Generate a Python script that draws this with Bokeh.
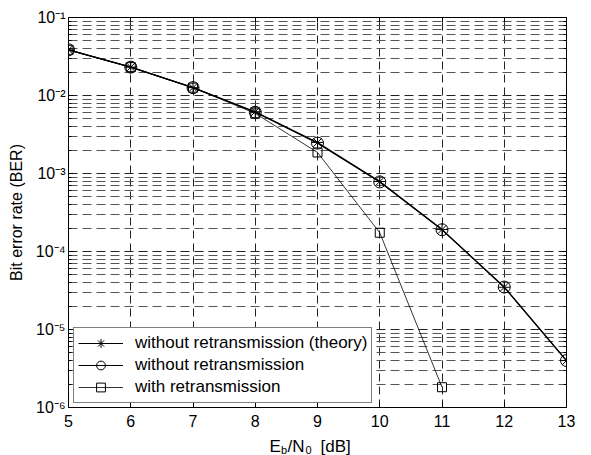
from bokeh.plotting import figure
from bokeh.layouts import column
from bokeh.models import (Range1d, FixedTicker, LogAxis, LinearAxis,
                          Legend, LegendItem, CustomJSTickFormatter)
from bokeh.core.properties import value
from bokeh.embed import file_html
from bokeh.resources import INLINE

# ---------------- data ----------------
ebn0 = [5, 6, 7, 8, 9, 10, 11, 12, 13]
ber_theory = [3.85e-2, 2.31e-2, 1.26e-2, 6.2e-3, 2.5e-3, 7.9e-4, 1.91e-4, 3.48e-5, 4.0e-6]
ber_no_retx = [3.85e-2, 2.31e-2, 1.26e-2, 6.1e-3, 2.45e-3, 7.8e-4, 1.9e-4, 3.5e-5, 4.0e-6]
ebn0_retx = [5, 6, 7, 8, 9, 10, 11]
ber_retx = [3.85e-2, 2.31e-2, 1.26e-2, 5.9e-3, 1.86e-3, 1.74e-4, 1.82e-6]

series_labels = ["without retransmission (theory)",
                 "without retransmission",
                 "with retransmission"]
x_ticks = [5, 6, 7, 8, 9, 10, 11, 12, 13]
y_tick_exps = [-6, -5, -4, -3, -2, -1]
y_tick_labels = ["10\u207b\u2076", "10\u207b\u2075", "10\u207b\u2074",
                 "10\u207b\u00b3", "10\u207b\u00b2", "10\u207b\u00b9"]
y_label = "Bit error rate (BER)"
# x label pieces: E_b / N_0 [dB]
xlab_main = ["E", "/N", "[dB]"]
xlab_sub = ["b", "0"]

FONT = "Liberation Sans"

y_major = [10.0 ** e for e in y_tick_exps]
y_minor = [m * 10.0 ** e for e in y_tick_exps[:-1] for m in range(2, 10)]

p = figure(width=591, height=430,
           x_range=Range1d(5, 13), y_range=Range1d(1e-6, 1e-1),
           y_axis_type="log", output_backend="svg", toolbar_location=None,
           min_border_left=68, min_border_right=25,
           min_border_top=17, min_border_bottom=23)
p.background_fill_color = "white"
p.border_fill_color = "white"
p.outline_line_color = "black"
p.outline_line_width = 1

xt = FixedTicker(ticks=x_ticks, minor_ticks=[])
yt = FixedTicker(ticks=y_major, minor_ticks=y_minor)

def style_axis(ax, show_labels):
    ax.axis_line_color = "black"
    ax.major_tick_line_color = "black"
    ax.minor_tick_line_color = "black"
    ax.major_tick_in = 5
    ax.major_tick_out = 0
    ax.minor_tick_in = 3
    ax.minor_tick_out = 0
    ax.major_label_text_font = FONT
    ax.major_label_text_font_size = "16px"
    ax.major_label_text_color = "black"
    if not show_labels:
        ax.formatter = CustomJSTickFormatter(code="return ''")
        ax.major_label_standoff = 0

p.xaxis.ticker = xt
p.yaxis.ticker = yt
style_axis(p.xaxis[0], True)
style_axis(p.yaxis[0], True)
p.xaxis.major_label_standoff = 7
p.yaxis.major_label_standoff = 3
p.yaxis.formatter = CustomJSTickFormatter(
    args=dict(labels=y_tick_labels, exps=y_tick_exps),
    code="const e = Math.round(Math.log10(tick)); return labels[exps.indexOf(e)];")
p.yaxis.axis_label = y_label
p.yaxis.axis_label_text_font = FONT
p.yaxis.axis_label_text_font_size = "16px"
p.yaxis.axis_label_text_font_style = "normal"
p.yaxis.axis_label_text_color = "black"
p.yaxis.axis_label_standoff = 8

top_ax = LinearAxis(ticker=FixedTicker(ticks=x_ticks, minor_ticks=[]))
style_axis(top_ax, False)
p.add_layout(top_ax, "above")
right_ax = LogAxis(ticker=FixedTicker(ticks=y_major, minor_ticks=y_minor))
style_axis(right_ax, False)
p.add_layout(right_ax, "right")

# grids
p.xgrid.ticker = xt
p.ygrid.ticker = yt
p.xgrid.grid_line_color = "#222222"
p.xgrid.grid_line_dash = "8 5"
p.ygrid.grid_line_color = "#222222"
p.ygrid.grid_line_dash = "9 5"
p.ygrid.minor_grid_line_color = "#555555"
p.ygrid.minor_grid_line_dash = "9 5"

# series
l1 = p.line(ebn0, ber_theory, line_color="black", line_width=1.2)
s1 = p.scatter(ebn0, ber_theory, marker="asterisk", size=12,
               line_color="black", line_width=1)
l2 = p.line(ebn0, ber_no_retx, line_color="black", line_width=1.2)
s2 = p.scatter(ebn0, ber_no_retx, marker="circle", size=12,
               fill_color=None, line_color="black", line_width=1)
l3 = p.line(ebn0_retx, ber_retx, line_color="black", line_width=0.8)
s3 = p.scatter(ebn0_retx, ber_retx, marker="square", size=9,
               fill_color=None, line_color="black", line_width=1)

legend = Legend(items=[
    LegendItem(label=series_labels[0], renderers=[l1, s1]),
    LegendItem(label=series_labels[1], renderers=[l2, s2]),
    LegendItem(label=series_labels[2], renderers=[l3, s3]),
], location=(5, 4))
legend.label_text_font = FONT
legend.label_text_font_size = "17px"
legend.label_text_color = "black"
legend.glyph_width = 45
legend.glyph_height = 22
legend.label_height = 22
legend.spacing = 0
legend.padding = 4
legend.margin = 0
legend.label_standoff = 12
legend.border_line_color = "black"
legend.border_line_width = 1
legend.background_fill_color = "white"
legend.background_fill_alpha = 1.0
p.add_layout(legend, "center")

# ---- x axis label strip (E_b/N_0 [dB]) ----
# the column aligns this strip's frame with the main frame (page x 68..566)
q = figure(width=591, height=25, x_range=Range1d(68, 566), y_range=Range1d(0, 25),
           output_backend="svg", toolbar_location=None,
           x_axis_location=None, y_axis_location=None,
           min_border_left=0, min_border_right=0,
           min_border_top=0, min_border_bottom=0)
q.grid.visible = False
q.outline_line_color = None
q.background_fill_color = "white"
q.border_fill_color = "white"
q.text(x=[269, 287, 320], y=[9, 9, 9], text=xlab_main,
       text_font=value(FONT), text_font_size="17px", text_color="black",
       text_align="left", text_baseline="alphabetic")
q.text(x=[280.5, 305], y=[6, 6], text=xlab_sub,
       text_font=value(FONT), text_font_size="11px", text_color="black",
       text_align="left", text_baseline="alphabetic")

layout = column(p, q, spacing=0)
open("out.html", "w").write(file_html(layout, INLINE))
